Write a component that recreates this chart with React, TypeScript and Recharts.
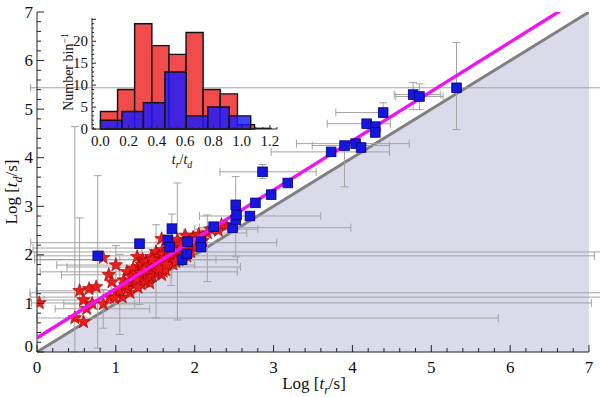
import React from "react";
import { ComposedChart, Area, Line, Scatter, ErrorBar, XAxis, YAxis, ReferenceArea, ReferenceLine } from "recharts";

const SERIF = "Liberation Serif, Times New Roman, DejaVu Serif, serif";

// log t_d = log t_r  (shaded half-plane below it) and the fitted relation
const DIAG = [{ x: 0, y: 0 }, { x: 7, y: 7 }];
const FIT = [{ x: 0, y: 0.29 }, { x: 7, y: 7.395 }];

// red stars, ex / ey = [minus, plus]
const STARS: any[] = [
  { x: 0.03, y: 1.01, ex: [0.1, 7] },
  { x: 0.84, y: 1.94 },
  { x: 0.54, y: 1.26, ex: [0.55, 0.4], ey: [0.6, 1.5] },
  { x: 0.66, y: 1.3 },
  { x: 0.75, y: 1.34 },
  { x: 0.59, y: 1.07, ex: [0.5, 0.5] },
  { x: 0.63, y: 0.89, ex: [0.4, 0.8] },
  { x: 0.48, y: 0.7, ex: [0.48, 5.37], ey: [0.7, 3.94] },
  { x: 0.59, y: 0.62 },
  { x: 0.84, y: 0.99, ex: [0.5, 0.4], ey: [0.5, 0.3] },
  { x: 0.92, y: 1.13, ex: [1, 6.5] },
  { x: 0.91, y: 1.59, ex: [0.6, 0.8] },
  { x: 0.95, y: 1.44 },
  { x: 1.0, y: 1.79, ex: [0.75, 1.0], ey: [0.5, 0.4] },
  { x: 1.08, y: 1.13 },
  { x: 1.14, y: 1.65, ex: [1.1, 1.4] },
  { x: 1.18, y: 1.42 },
  { x: 1.27, y: 1.96 },
  { x: 1.28, y: 1.75, ex: [0.9, 1.3] },
  { x: 1.3, y: 1.48, ey: [0.5, 0.4] },
  { x: 1.34, y: 1.9, ex: [1.3, 1.2] },
  { x: 1.39, y: 1.69 },
  { x: 1.43, y: 1.42 },
  { x: 1.51, y: 2.06, ex: [1.6, 6], ey: [1.36, 0.56] },
  { x: 1.58, y: 2.33 },
  { x: 1.59, y: 2.1 },
  { x: 1.65, y: 1.84 },
  { x: 1.6, y: 1.66 },
  { x: 1.72, y: 2.25, ex: [1.8, 1.32] },
  { x: 1.78, y: 2.31, ey: [1.65, 1.17] },
  { x: 1.85, y: 2.14, ex: [1.9, 0.3] },
  { x: 1.94, y: 2.16 },
  { x: 1.77, y: 1.9, ex: [1.8, 0.5] },
  { x: 1.58, y: 1.59 },
  { x: 1.47, y: 1.79 },
  { x: 1.18, y: 1.22 },
  { x: 1.01, y: 1.22, ex: [1.1, 6.5] },
  { x: 2.16, y: 2.45, ex: [0.3, 0.5], ey: [1.0, 0.37] },
  { x: 1.2, y: 1.55 },
  { x: 1.22, y: 1.72 },
  { x: 1.24, y: 1.4 },
  { x: 1.26, y: 1.62 },
  { x: 1.31, y: 1.63 },
  { x: 1.32, y: 1.4 },
  { x: 1.33, y: 1.8, ey: [0.4, 0.5] },
  { x: 1.35, y: 1.55 },
  { x: 1.37, y: 1.46 },
  { x: 1.38, y: 1.86 },
  { x: 1.4, y: 1.59 },
  { x: 1.41, y: 1.76 },
  { x: 1.42, y: 1.52 },
  { x: 1.44, y: 1.64 },
  { x: 1.45, y: 1.96 },
  { x: 1.46, y: 1.56 },
  { x: 1.48, y: 1.71 },
  { x: 1.5, y: 1.62 },
  { x: 1.5, y: 1.88 },
  { x: 1.52, y: 1.76 },
  { x: 1.53, y: 1.66 },
  { x: 1.55, y: 1.96 },
  { x: 1.56, y: 1.81 },
  { x: 1.58, y: 1.71 },
  { x: 1.6, y: 2.01 },
  { x: 1.61, y: 1.77 },
  { x: 1.62, y: 1.93 },
  { x: 1.63, y: 1.69 },
  { x: 1.66, y: 2.05 },
  { x: 1.67, y: 1.87 },
  { x: 1.7, y: 1.97, ey: [0.6, 0.3] },
  { x: 1.72, y: 1.81 },
  { x: 1.74, y: 2.09 },
  { x: 1.75, y: 1.93 },
  { x: 1.78, y: 2.02 },
  { x: 1.8, y: 1.89 },
  { x: 1.82, y: 2.21 },
  { x: 1.85, y: 1.99 },
  { x: 1.88, y: 2.09 },
  { x: 1.9, y: 1.97 },
  { x: 1.92, y: 2.27 },
  { x: 1.95, y: 2.06 },
  { x: 1.98, y: 2.36 },
  { x: 2.02, y: 2.19 },
  { x: 2.05, y: 2.42 },
  { x: 2.1, y: 2.29 },
  { x: 2.2, y: 2.53, ex: [0.2, 0.6] },
  { x: 2.3, y: 2.5 },
  { x: 1.15, y: 1.3 },
  { x: 1.1, y: 1.48 },
  { x: 1.05, y: 1.26, ey: [0.9, 0.75] },
  { x: 0.98, y: 1.11 },
  { x: 1.28, y: 1.33 },
  { x: 1.36, y: 1.7 },
  { x: 1.46, y: 1.9 },
  { x: 1.55, y: 1.72 },
  { x: 1.64, y: 1.8 },
  { x: 1.7, y: 2.15 },
  { x: 1.76, y: 1.86 },
  { x: 1.26, y: 1.5 },
  { x: 1.12, y: 1.38 },
  { x: 0.7, y: 1.0 },
  { x: 2.06, y: 2.33 },
  { x: 1.88, y: 2.4 },
  { x: 2.4, y: 2.6 },
  { x: 2.34, y: 2.62 },
];

// blue squares
const SQUARES: any[] = [
  { x: 0.77, y: 1.98, ex: [0.8, 6.3], ey: [1.9, 1.65] },
  { x: 1.3, y: 2.23 },
  { x: 1.66, y: 2.31 },
  { x: 1.68, y: 2.16 },
  { x: 1.71, y: 2.54, ey: [0.3, 0.3] },
  { x: 1.91, y: 2.27 },
  { x: 1.84, y: 1.9 },
  { x: 1.9, y: 2.02 },
  { x: 2.08, y: 2.27 },
  { x: 2.08, y: 2.16 },
  { x: 2.24, y: 2.58 },
  { x: 2.48, y: 2.56, ex: [0.42, 1.5] },
  { x: 2.52, y: 2.72 },
  { x: 2.52, y: 3.03, ey: [1.07, 0.58] },
  { x: 2.53, y: 2.82 },
  { x: 2.7, y: 2.8, ex: [0.64, 0.9] },
  { x: 2.77, y: 3.07 },
  { x: 2.86, y: 3.71, ex: [0.54, 0.68], ey: [0.14, 0.15] },
  { x: 2.97, y: 3.24 },
  { x: 3.18, y: 3.48 },
  { x: 3.73, y: 4.12, ex: [0.76, 0.74] },
  { x: 3.9, y: 4.25, ex: [0.41, 0.57], ey: [0.85, 0.06] },
  { x: 4.04, y: 4.29, ex: [0.75, 0.68] },
  { x: 4.11, y: 4.21 },
  { x: 4.18, y: 4.7, ex: [0.5, 0.3] },
  { x: 4.29, y: 4.64 },
  { x: 4.29, y: 4.52 },
  { x: 4.39, y: 4.93, ex: [0.6, 0], ey: [0.1, 0.2] },
  { x: 4.77, y: 5.3, ex: [0.24, 0.35], ey: [0.31, 0.25] },
  { x: 4.85, y: 5.26, ex: [0.3, 0.3], ey: [0.27, 0.26] },
  { x: 5.32, y: 5.44, ex: [5.4, 2], ey: [0.86, 0.93] },
];

// inset histogram of t_r / t_d
const RED_EDGES = [0, 0.121, 0.242, 0.364, 0.485, 0.606, 0.727, 0.848, 0.97, 1.091, 1.212];
const RED_COUNTS = [4, 9, 24, 19, 17, 22, 9, 8, 1, 0];
const BLUE_EDGES = [0, 0.152, 0.304, 0.456, 0.608, 0.76, 0.912, 1.064];
const BLUE_COUNTS = [2, 4, 6, 13, 3, 5, 3];

const X_TICKS = Array.from({ length: 36 }, (_, i) => Math.round(i * 2) / 10);
const Y_TICKS = X_TICKS;
const HX_TICKS = Array.from({ length: 27 }, (_, i) => Math.round((i - 1) * 5) / 100);
const HY_TICKS = Array.from({ length: 26 }, (_, i) => i);

type Side = "bottom" | "top" | "left" | "right";

function axisTick(side: Side, step: number, majorLen: number, minorLen: number, label: ((v: number) => string | null) | null, fs: number, off: number) {
  return (p: any) => {
    const v: number = p.payload.value;
    const { x, y } = p;
    const major = Math.abs(v / step - Math.round(v / step)) < 1e-6;
    const len = major ? majorLen : minorLen;
    const l =
      side === "bottom" ? [x, y, x, y - len] :
      side === "top" ? [x, y, x, y + len] :
      side === "left" ? [x, y, x + len, y] : [x, y, x - len, y];
    const txt = major && label ? label(v) : null;
    return (
      <g>
        <line x1={l[0]} y1={l[1]} x2={l[2]} y2={l[3]} stroke="#222" strokeWidth={1} />
        {txt != null && side === "bottom" && (
          <text x={x} y={y + off} textAnchor="middle" fontFamily={SERIF} fontSize={fs} style={{ fontFamily: SERIF }} fill="#111">{txt}</text>
        )}
        {txt != null && side === "left" && (
          <text x={x - off} y={y + fs * 0.33 - (v === 0 && fs > 15 ? 6 : 0)} textAnchor="end" fontFamily={SERIF} fontSize={fs} style={{ fontFamily: SERIF }} fill="#111">{txt}</text>
        )}
      </g>
    );
  };
}

const intLabel = (v: number) => String(Math.round(v));
const mainBottom = axisTick("bottom", 1, 7, 4, intLabel, 17, 21);
const mainTop = axisTick("top", 1, 7, 4, null, 16, 0);
const mainLeft = axisTick("left", 1, 7, 4, intLabel, 17, 4);
const mainRight = axisTick("right", 1, 7, 4, null, 16, 0);
const insBottom = axisTick("bottom", 0.2, 4, 2, (v) => (v >= 0 && v <= 1.21 ? v.toFixed(1) : null), 15, 17);
const insTop = axisTick("top", 0.2, 4, 2, null, 14, 0);
const insLeft = axisTick("left", 5, 4, 2, (v) => (v <= 20 ? String(v) : null), 15, 4);
const insRight = axisTick("right", 5, 4, 2, null, 14, 0);

const Star = (p: any) => {
  const { cx, cy } = p;
  if (cx == null || cy == null) return <g />;
  const pts: string[] = [];
  for (let i = 0; i < 10; i++) {
    const r = i % 2 === 0 ? 7.2 : 3.0;
    const a = -Math.PI / 2 + (i * Math.PI) / 5;
    pts.push(`${cx + r * Math.cos(a)},${cy + r * Math.sin(a)}`);
  }
  return <polygon points={pts.join(" ")} fill="#ec1c1c" stroke="#a00000" strokeWidth={0.6} />;
};

const Square = (p: any) => {
  const { cx, cy } = p;
  if (cx == null || cy == null) return <g />;
  return <rect x={cx - 4.8} y={cy - 4.8} width={9.6} height={9.6} fill="#1616e0" stroke="#00007a" strokeWidth={0.8} />;
};

const NoShape = () => <g />;

const ERR = "#a3a3a3";
const axisLine = { stroke: "#222", strokeWidth: 1 };
const txtBase: React.CSSProperties = { position: "absolute", fontFamily: SERIF, color: "#111", whiteSpace: "nowrap", lineHeight: 1 };

export default function App() {
  return (
    <div style={{ position: "absolute", left: 0, top: 0, width: 600, height: 397, background: "#fff", fontFamily: SERIF }}>
      <ComposedChart width={600} height={397} data={DIAG} margin={{ top: 12, right: 11, bottom: 0, left: 0 }} style={{ fontFamily: SERIF }}>
        <XAxis dataKey="x" type="number" domain={[0, 7]} ticks={X_TICKS} interval={0} allowDataOverflow height={45} tickSize={0} tickMargin={0} tickLine={false} tick={mainBottom} axisLine={axisLine} />
        <XAxis xAxisId="top" orientation="top" type="number" domain={[0, 7]} ticks={X_TICKS} interval={0} allowDataOverflow height={0} tickSize={0} tickMargin={0} tickLine={false} tick={mainTop} axisLine={axisLine} />
        <YAxis dataKey="y" type="number" domain={[0, 7]} ticks={Y_TICKS} interval={0} allowDataOverflow width={37} tickSize={0} tickMargin={0} tickLine={false} tick={mainLeft} axisLine={axisLine} />
        <YAxis yAxisId="right" orientation="right" type="number" domain={[0, 7]} ticks={Y_TICKS} interval={0} allowDataOverflow width={0} tickSize={0} tickMargin={0} tickLine={false} tick={mainRight} axisLine={axisLine} />
        <Area dataKey="y" type="linear" fill="#dadaea" fillOpacity={1} stroke="none" isAnimationActive={false} />
        <Line dataKey="y" type="linear" stroke="#808080" strokeWidth={3} dot={false} isAnimationActive={false} />
        <Scatter data={STARS} shape={Star} isAnimationActive={false}>
          <ErrorBar dataKey="ex" direction="x" width={4} stroke={ERR} strokeWidth={1} />
          <ErrorBar dataKey="ey" direction="y" width={4} stroke={ERR} strokeWidth={1} />
        </Scatter>
        <Scatter data={FIT} shape={NoShape} line={{ stroke: "#ee16ee", strokeWidth: 3.5 }} isAnimationActive={false} />
        <Scatter data={SQUARES} shape={Square} isAnimationActive={false}>
          <ErrorBar dataKey="ex" direction="x" width={4} stroke={ERR} strokeWidth={1} />
          <ErrorBar dataKey="ey" direction="y" width={4} stroke={ERR} strokeWidth={1} />
        </Scatter>
      </ComposedChart>

      <div style={{ position: "absolute", left: 0, top: 0 }}>
        <ComposedChart width={300} height={170} margin={{ top: 18, right: 23, bottom: 0, left: 0 }} style={{ fontFamily: SERIF }}>
          <XAxis dataKey="x" type="number" domain={[-0.06, 1.25]} ticks={HX_TICKS} interval={0} allowDataOverflow height={41} tickSize={0} tickMargin={0} tickLine={false} tick={insBottom} axisLine={axisLine} />
          <XAxis xAxisId="top" orientation="top" type="number" domain={[-0.06, 1.25]} ticks={HX_TICKS} interval={0} allowDataOverflow height={0} tickSize={0} tickMargin={0} tickLine={false} tick={insTop} axisLine={axisLine} />
          <YAxis dataKey="y" type="number" domain={[0, 25.3]} ticks={HY_TICKS} interval={0} allowDataOverflow width={92} tickSize={0} tickMargin={0} tickLine={false} tick={insLeft} axisLine={axisLine} />
          <YAxis yAxisId="right" orientation="right" type="number" domain={[0, 25.3]} ticks={HY_TICKS} interval={0} allowDataOverflow width={0} tickSize={0} tickMargin={0} tickLine={false} tick={insRight} axisLine={axisLine} />
          {RED_COUNTS.map((c, i) =>
            c > 0 ? (
              <ReferenceArea key={"r" + i} x1={RED_EDGES[i]} x2={RED_EDGES[i + 1]} y1={0} y2={c} fill="#f24b4b" fillOpacity={1} stroke="#111" strokeWidth={1.4} />
            ) : (
              <ReferenceLine key={"r" + i} segment={[{ x: RED_EDGES[i], y: 0.15 }, { x: RED_EDGES[i + 1], y: 0.15 }]} stroke="#111" strokeWidth={1.4} />
            )
          )}
          {BLUE_COUNTS.map((c, i) => (
            <ReferenceArea key={"b" + i} x1={BLUE_EDGES[i]} x2={BLUE_EDGES[i + 1]} y1={0} y2={c} fill="#1a1aff" fillOpacity={0.82} stroke="#111" strokeWidth={1.4} />
          ))}
        </ComposedChart>
      </div>

      <div style={{ ...txtBase, left: 14, top: 192, fontSize: 17, transform: "translate(-50%, -50%) rotate(-90deg)" }}>
        Log [<i>t</i><sub style={{ fontSize: "0.7em" }}><i>d</i></sub>/s]
      </div>
      <div style={{ ...txtBase, left: 314, top: 386, fontSize: 17, transform: "translate(-50%, -50%)" }}>
        Log [<i>t</i><sub style={{ fontSize: "0.7em" }}><i>r</i></sub>/s]
      </div>
      <div style={{ ...txtBase, left: 68, top: 72, fontSize: 14, transform: "translate(-50%, -50%) rotate(-90deg)" }}>
        Number bin<sup style={{ fontSize: "0.7em" }}>−1</sup>
      </div>
      <div style={{ ...txtBase, left: 182, top: 161, fontSize: 14, transform: "translate(-50%, -50%)" }}>
        <i>t</i><sub style={{ fontSize: "0.7em" }}><i>r</i></sub>/<i>t</i><sub style={{ fontSize: "0.7em" }}><i>d</i></sub>
      </div>
    </div>
  );
}
